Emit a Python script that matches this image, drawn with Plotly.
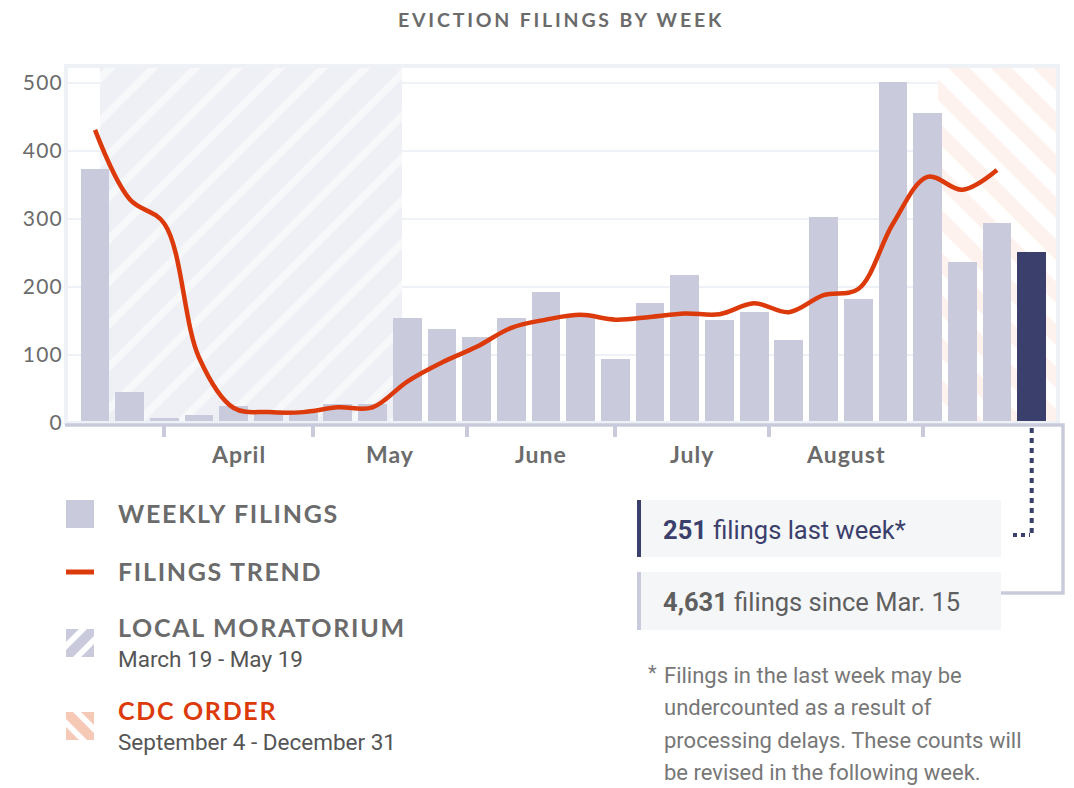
import pandas as pd
import plotly.graph_objects as go

# ---------------- data ----------------
FIRST_WEEK_MID = "2020-03-18"          # middle of the week starting Mar. 15
weekly_filings = [373, 46, 7, 12, 25, 18, 14, 28, 28, 154, 138, 127, 154, 192,
                  158, 94, 177, 218, 152, 163, 122, 303, 182, 501, 456, 237, 294, 251]
trend_filings = [431, 329, 293, 96, 22, 16, 16, 23, 23, 61, 89, 112, 140, 152,
                 159, 152, 156, 161, 160, 176, 163, 188, 197, 293, 362, 343, 372]
month_bounds = ["2020-04-01", "2020-05-01", "2020-06-01", "2020-07-01",
                "2020-08-01", "2020-09-01"]
month_names = ["April", "May", "June", "July", "August"]
moratorium_period = ["2020-03-19", "2020-05-19"]
cdc_period = ["2020-09-04", "2020-12-31"]
y_tick_values = [0, 100, 200, 300, 400, 500]
total_since_label = "4,631"
footnote_lines = ["Filings in the last week may be",
                  "undercounted as a result of",
                  "processing delays. These counts will",
                  "be revised in the following week."]

# ---------------- styling ----------------
PAGE_OFF = 8                              # default page margin around the plot div
W, H = 1074 - 2 * PAGE_OFF, 788 - PAGE_OFF
L, R, T, B = 68, 1056, 68, 423            # plot area in page pixels
BAR = "#c9cbdc"
NAVY = "#3b3f6c"
RED = "#dc3a0b"
GRAY = "#6b6b6b"
LIGHT = "#eef1f5"
HEAD = "Lato"
BODY = "Roboto"
Y_MAX = 522


def X(px):
    return (px - L) / (R - L)


def Y(py):
    return (B - py) / (B - T)


def spaced(text, sp):
    return f'<span style="letter-spacing:{sp}px">{text}</span>'


weeks = pd.date_range(FIRST_WEEK_MID, periods=len(weekly_filings), freq="7D")
DAY_MS = 86400000
x_range = [weeks[0] - pd.Timedelta(days=5.45), weeks[0] + pd.Timedelta(days=193.9)]

fig = go.Figure()


def period_bar(period, color, fg, shape, solidity):
    s, e = pd.Timestamp(period[0]), pd.Timestamp(period[1])
    return go.Bar(x=[s + (e - s) / 2], y=[Y_MAX], base=[0],
                  width=[(e - s).total_seconds() * 1000],
                  marker=dict(color=color, line_width=0,
                              pattern=dict(shape=shape, fgcolor=fg, size=30,
                                           solidity=solidity)),
                  hoverinfo="skip", showlegend=False)


fig.add_trace(period_bar(moratorium_period, "#eff0f5", "#ffffff", "/", 0.25))
fig.add_trace(period_bar(cdc_period, "#ffffff", "#fce6dd", "\\", 0.5))

bar_colors = [BAR] * (len(weekly_filings) - 1) + [NAVY]
fig.add_trace(go.Bar(x=weeks, y=weekly_filings, width=5.8 * DAY_MS,
                     marker=dict(color=bar_colors, line_width=0),
                     showlegend=False))
fig.add_trace(go.Scatter(x=weeks[:len(trend_filings)], y=trend_filings, mode="lines",
                         line=dict(color=RED, width=4.5, shape="spline", smoothing=1.0),
                         showlegend=False))

shapes = []
ann = []

# plot frame
shapes.append(dict(type="rect", xref="paper", yref="paper", x0=X(L - 2), x1=X(R + 2),
                   y0=Y(B), y1=Y(T - 2), line=dict(color=LIGHT, width=4), layer="above"))
# baseline + connector to total box
shapes.append(dict(type="path", xref="paper", yref="paper",
                   path=f"M{X(L - 3)},{Y(425)} L{X(1063)},{Y(425)} L{X(1063)},{Y(593)} L{X(1001)},{Y(593)}",
                   line=dict(color=BAR, width=3.5), layer="above"))
# dotted connector from the last bar
last_x = weeks[-1]
shapes.append(dict(type="line", xref="x", yref="paper", x0=last_x, x1=last_x,
                   y0=Y(428), y1=Y(537), line=dict(color=NAVY, width=4, dash="5px,5px")))
shapes.append(dict(type="line", xref="paper", yref="paper", x0=X(1013), x1=X(1030),
                   y0=Y(535), y1=Y(535), line=dict(color=NAVY, width=4, dash="4px,4px")))

# month labels
mb = pd.to_datetime(month_bounds)
for i, name in enumerate(month_names):
    mid = mb[i] + (mb[i + 1] - mb[i]) / 2
    ann.append(dict(x=mid, xref="x", y=Y(454), yref="paper", text=spaced(name, 1.0),
                    showarrow=False, xanchor="center", yanchor="middle",
                    font=dict(family=HEAD, size=23, color=GRAY, weight=700)))

# title
ann.append(dict(x=X(561), y=Y(20), xref="paper", yref="paper",
                text=spaced("EVICTION FILINGS BY WEEK", 2.8), showarrow=False,
                xanchor="center", yanchor="middle",
                font=dict(family=HEAD, size=19.5, color=GRAY, weight=700)))

# legend
sw0, sw1 = 66, 94


def stripes(x0, y0, s, direction, color):
    """white diagonal bands clipped to a square swatch (pixel coords)."""
    paths = []
    f = (lambda p: p[0] + p[1]) if direction == "/" else (lambda p: p[0] - p[1])

    def clip(poly, lim, keep):
        out = []
        n = len(poly)
        for k in range(n):
            p, q = poly[k], poly[(k + 1) % n]
            fp, fq = f(p), f(q)
            ip, iq = keep(fp), keep(fq)
            if ip:
                out.append(p)
            if ip != iq:
                t = (lim - fp) / (fq - fp)
                out.append((p[0] + t * (q[0] - p[0]), p[1] + t * (q[1] - p[1])))
        return out

    for off in (-11, 11):
        c = (s + off) if direction == "/" else off
        lo, hi = c - 4, c + 4
        poly = [(0, 0), (s, 0), (s, s), (0, s)]
        poly = clip(poly, lo, lambda v: v >= lo)
        poly = clip(poly, hi, lambda v: v <= hi)
        if len(poly) >= 3:
            d = "M" + " L".join(f"{X(x0 + px)},{Y(y0 + py)}" for px, py in poly) + " Z"
            paths.append(dict(type="path", xref="paper", yref="paper", path=d,
                              fillcolor=color, line=dict(width=0), layer="above"))
    return paths


# weekly filings swatch
shapes.append(dict(type="rect", xref="paper", yref="paper", x0=X(sw0), x1=X(sw1),
                   y0=Y(528), y1=Y(500), fillcolor=BAR, line_width=0))
# trend swatch
shapes.append(dict(type="line", xref="paper", yref="paper", x0=X(sw0), x1=X(sw1),
                   y0=Y(572), y1=Y(572), line=dict(color=RED, width=5)))
# moratorium swatch
shapes.append(dict(type="rect", xref="paper", yref="paper", x0=X(sw0), x1=X(sw1),
                   y0=Y(657), y1=Y(629), fillcolor=BAR, line_width=0, layer="above"))
shapes += stripes(sw0, 629, sw1 - sw0, "/", "#ffffff")
# CDC swatch
shapes.append(dict(type="rect", xref="paper", yref="paper", x0=X(sw0), x1=X(sw1),
                   y0=Y(740), y1=Y(712), fillcolor="#f6c8b6", line_width=0, layer="above"))
shapes += stripes(sw0, 712, sw1 - sw0, "\\", "#ffffff")

legend_heads = [("WEEKLY FILINGS", 513, GRAY), ("FILINGS TREND", 571, GRAY),
                ("LOCAL MORATORIUM", 627, GRAY), ("CDC ORDER", 710, RED)]
for text, py, col in legend_heads:
    ann.append(dict(x=X(116), y=Y(py), xref="paper", yref="paper", text=spaced(text, 1.7),
                    showarrow=False, xanchor="left", yanchor="middle",
                    font=dict(family=HEAD, size=25, color=col, weight=700)))
for text, py in [("March 19 - May 19", 659), ("September 4 - December 31", 742)]:
    ann.append(dict(x=X(116), y=Y(py), xref="paper", yref="paper", text=text,
                    showarrow=False, xanchor="left", yanchor="middle",
                    font=dict(family=BODY, size=22.5, color="#555555")))

# summary boxes
shapes.append(dict(type="rect", xref="paper", yref="paper", x0=X(637), x1=X(1001),
                   y0=Y(557), y1=Y(500), fillcolor="#f5f6f8", line_width=0))
shapes.append(dict(type="rect", xref="paper", yref="paper", x0=X(637), x1=X(641),
                   y0=Y(557), y1=Y(500), fillcolor=NAVY, line_width=0))
shapes.append(dict(type="rect", xref="paper", yref="paper", x0=X(637), x1=X(1001),
                   y0=Y(630), y1=Y(572), fillcolor="#f5f6f8", line_width=0))
shapes.append(dict(type="rect", xref="paper", yref="paper", x0=X(637), x1=X(641),
                   y0=Y(630), y1=Y(572), fillcolor=BAR, line_width=0))
ann.append(dict(x=X(661), y=Y(530), xref="paper", yref="paper",
                text=f"<b>{weekly_filings[-1]}</b> filings last week*", showarrow=False,
                xanchor="left", yanchor="middle",
                font=dict(family=BODY, size=25.5, color=NAVY)))
ann.append(dict(x=X(661), y=Y(602), xref="paper", yref="paper",
                text=f"<b>{total_since_label}</b> filings since Mar. 15", showarrow=False,
                xanchor="left", yanchor="middle",
                font=dict(family=BODY, size=25.5, color="#5f5f5f")))

# footnote
ann.append(dict(x=X(646), y=Y(673), xref="paper", yref="paper", text="*", showarrow=False,
                xanchor="left", yanchor="middle", font=dict(family=BODY, size=20, color="#777777")))
for k, line in enumerate(footnote_lines):
    ann.append(dict(x=X(662), y=Y(675 + 32.5 * k), xref="paper", yref="paper", text=line,
                    showarrow=False, xanchor="left", yanchor="middle",
                    font=dict(family=BODY, size=22, color="#777777")))

fig.update_layout(
    width=W, height=H,
    margin=dict(l=L - PAGE_OFF, r=W - (R - PAGE_OFF), t=T - PAGE_OFF,
                b=H - (B - PAGE_OFF), pad=0),
    paper_bgcolor="white", plot_bgcolor="white",
    barmode="overlay", bargap=0,
    showlegend=False,
    shapes=shapes, annotations=ann,
    xaxis=dict(type="date", range=x_range, tickvals=month_bounds, ticks="outside",
               ticklen=13, tickwidth=4, tickcolor=BAR, showticklabels=False,
               showgrid=False, zeroline=False, showline=False, fixedrange=True),
    yaxis=dict(range=[0, Y_MAX], tickvals=y_tick_values,
               ticktext=[spaced(str(v), 1.2) for v in y_tick_values], ticks="",
               tickfont=dict(family=HEAD, size=21, color=GRAY),
               gridcolor=LIGHT, gridwidth=2, zeroline=False, showline=False,
               ticklabelstandoff=4, fixedrange=True),
)

fig.write_html("out.html")
